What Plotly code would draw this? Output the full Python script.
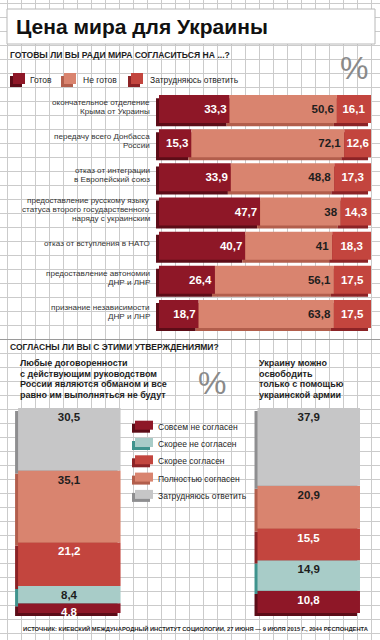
import plotly.graph_objects as go

W, H = 380, 640

# ---------------- data ----------------
title = "Цена мира для Украины"
question_top = "ГОТОВЫ ЛИ ВЫ РАДИ МИРА СОГЛАСИТЬСЯ НА ...?"
question_bottom = "СОГЛАСНЫ ЛИ ВЫ С ЭТИМИ УТВЕРЖДЕНИЯМИ?"
source = "ИСТОЧНИК: КИЕВСКИЙ МЕЖДУНАРОДНЫЙ ИНСТИТУТ СОЦИОЛОГИИ, 27 ИЮНЯ — 9 ИЮЛЯ 2015 Г., 2044 РЕСПОНДЕНТА"

concessions = [
    ["окончательное отделение", "Крыма от Украины"],
    ["передачу всего Донбасса", "России"],
    ["отказ от интеграции", "в Европейский союз"],
    ["предоставление русскому языку", "статуса второго государственного", "наряду с украинским"],
    ["отказ от вступления в НАТО"],
    ["предоставление автономии", "ДНР и ЛНР"],
    ["признание независимости", "ДНР и ЛНР"],
]
top_series = ["Готов", "Не готов", "Затрудняюсь ответить"]
ready = [33.3, 15.3, 33.9, 47.7, 40.7, 26.4, 18.7]
not_ready = [50.6, 72.1, 48.8, 38, 41, 56.1, 63.8]
undecided_top = [16.1, 12.6, 17.3, 14.3, 18.3, 17.5, 17.5]

statements = [
    ["Любые договоренности", "с действующим руководством", "России являются обманом и все", "равно им выполняться не будут"],
    ["Украину можно", "освободить", "только с помощью", "украинской армии"],
]
bottom_series = ["Совсем не согласен", "Скорее не согласен", "Скорее согласен",
                 "Полностью согласен", "Затрудняюсь ответить"]
strongly_disagree = [4.8, 10.8]
rather_disagree = [8.4, 14.9]
rather_agree = [21.2, 15.5]
fully_agree = [35.1, 20.9]
undecided_bottom = [30.5, 37.9]

# ---------------- styles ----------------
DARK, DARK_SH = "#8e1727", "#5c0c17"
SALMON, SALMON_SH = "#d9846f", "#b25e4c"
RED, RED_SH = "#c3453e", "#8c2326"
GRAY, GRAY_SH = "#c6c6c7", "#8e8e90"
TEAL, TEAL_SH = "#a8ccc8", "#3f938d"
GRID = "#cbcbcb"
TXT = "#1e1e1e"
NARROW = "Liberation Sans Narrow, Liberation Sans, Arial, sans-serif"
SANS = "Liberation Sans, Arial, sans-serif"


def fmt(v):
    return f"{v:g}".replace(".", ",")


def px(x):
    return x / W


def py(y):
    return 1 - y / H


fig = go.Figure()

# background grid holder (invisible trace so axis exists)
fig.add_trace(go.Scatter(x=[0], y=[0], mode="markers", marker=dict(opacity=0),
                         hoverinfo="skip", showlegend=False, xaxis="x", yaxis="y"))

# ---------------- top horizontal stacked bars ----------------
cats = [" ".join(c) for c in concessions]
top_vals = [ready, not_ready, undecided_top]
top_cols = [DARK, SALMON, RED]
top_sh = [DARK_SH, SALMON_SH, RED_SH]
top_txtcol = ["white", TXT, "white"]
top_anchor = ["end", "end", "middle"]

starts = []
acc = [0.0] * len(cats)
for vals in top_vals:
    starts.append(acc[:])
    acc = [a + v for a, v in zip(acc, vals)]

BW = 0.82
for vals, st, sh in zip(top_vals, starts, top_sh):
    fig.add_trace(go.Bar(orientation="h", y=cats, x=vals, base=[s - 1.4 for s in st],
                         width=BW, offset=-BW / 2 + 0.09, marker=dict(color=sh, line=dict(width=0)),
                         hoverinfo="skip", showlegend=False, xaxis="x2", yaxis="y2"))
for name, vals, st, col, tc, anc in zip(top_series, top_vals, starts, top_cols, top_txtcol, top_anchor):
    fig.add_trace(go.Bar(orientation="h", y=cats, x=vals, base=st, name=name,
                         width=BW, offset=-BW / 2, marker=dict(color=col, line=dict(width=0)),
                         text=[fmt(v) for v in vals], textposition="inside", insidetextanchor=anc,
                         textangle=0,
                         textfont=dict(family=SANS, size=11.5, color=tc, weight="bold"),
                         showlegend=False, xaxis="x2", yaxis="y2"))

# ---------------- bottom vertical stacked bars ----------------
st_keys = [" ".join(s) for s in statements]
bot_vals = [strongly_disagree, rather_disagree, rather_agree, fully_agree, undecided_bottom]
bot_cols = [DARK, TEAL, RED, SALMON, GRAY]
bot_sh = [DARK_SH, TEAL_SH, RED_SH, SALMON_SH, GRAY_SH]
bot_txtcol = ["white", TXT, "white", TXT, TXT]

bstarts = []
acc = [0.0, 0.0]
for vals in bot_vals:
    bstarts.append(acc[:])
    acc = [a + v for a, v in zip(acc, vals)]

VW = 0.428
for vals, st, sh in zip(bot_vals, bstarts, bot_sh):
    fig.add_trace(go.Bar(x=st_keys, y=vals, base=[s - 1.5 for s in st],
                         width=VW, offset=-VW / 2 - 0.0125, marker=dict(color=sh, line=dict(width=0)),
                         hoverinfo="skip", showlegend=False, xaxis="x3", yaxis="y3"))
for name, vals, st, col, tc in zip(bottom_series, bot_vals, bstarts, bot_cols, bot_txtcol):
    fig.add_trace(go.Bar(x=st_keys, y=vals, base=st, name=name,
                         width=VW, offset=-VW / 2, marker=dict(color=col, line=dict(width=0)),
                         text=[fmt(v) for v in vals], textposition="inside", insidetextanchor="end",
                         textangle=0,
                         textfont=dict(family=SANS, size=11.5, color=tc, weight="bold"),
                         showlegend=False, xaxis="x3", yaxis="y3"))

# ---------------- annotations / shapes ----------------
ann = []
shapes = []

# title box
shapes.append(dict(type="rect", xref="paper", yref="paper", x0=px(7), x1=px(375), y0=py(9), y1=py(44),
                   fillcolor="white", line=dict(color="#b8b8b8", width=1), layer="above"))
ann.append(dict(text=title, xref="paper", yref="paper", x=px(14), y=py(26), xanchor="left", yanchor="middle",
                showarrow=False, font=dict(family=SANS, size=21, color="#111", weight="bold")))
ann.append(dict(text=question_top, xref="paper", yref="paper", x=px(8), y=py(55), xanchor="left",
                yanchor="middle", showarrow=False, font=dict(family=NARROW, size=8.6, color=TXT, weight="bold")))
ann.append(dict(text="%", xref="paper", yref="paper", x=px(354), y=py(68), xanchor="center", yanchor="middle",
                showarrow=False, font=dict(family=SANS, size=32, color="#8a8a8a")))

# top legend
for name, col, sh, x0, lx in zip(top_series, top_cols, top_sh, [10, 61, 128], [28, 81, 148]):
    shapes.append(dict(type="rect", xref="paper", yref="paper", x0=px(x0), x1=px(x0 + 12), y0=py(87), y1=py(76),
                       fillcolor=sh, line=dict(width=0), layer="above"))
    shapes.append(dict(type="rect", xref="paper", yref="paper", x0=px(x0 + 3), x1=px(x0 + 15), y0=py(84), y1=py(73),
                       fillcolor=col, line=dict(width=0), layer="above"))
    ann.append(dict(text=name, xref="paper", yref="paper", x=px(lx), y=py(80), xanchor="left", yanchor="middle",
                    showarrow=False, font=dict(family=NARROW, size=8.5, color=TXT)))

# category labels (one annotation per line)
LS = 8.8
for cat, lines in zip(cats, concessions):
    n = len(lines)
    for j, line in enumerate(lines):
        ann.append(dict(text=line, xref="paper", yref="y2", x=px(152), y=cat, xanchor="right", yanchor="middle",
                        yshift=((n - 1) / 2 - j) * LS + 2, showarrow=False,
                        font=dict(family=NARROW, size=8.1, color="#333")))

# bottom section
shapes.append(dict(type="line", xref="paper", yref="paper", x0=0, x1=1, y0=py(339.5), y1=py(339.5),
                   line=dict(color="#9a9a9a", width=1), layer="above"))
ann.append(dict(text=question_bottom, xref="paper", yref="paper", x=px(8), y=py(347), xanchor="left",
                yanchor="middle", showarrow=False, font=dict(family=NARROW, size=8.5, color=TXT, weight="bold")))
ann.append(dict(text="%", xref="paper", yref="paper", x=px(212), y=py(383), xanchor="center", yanchor="middle",
                showarrow=False, font=dict(family=SANS, size=32, color="#8a8a8a")))
for lines, x0 in zip(statements, [18, 257]):
    for j, line in enumerate(lines):
        ann.append(dict(text=line, xref="paper", yref="paper", x=px(x0), y=py(363 + 10.7 * j), xanchor="left",
                        yanchor="middle", showarrow=False,
                        font=dict(family=SANS, size=9, color=TXT, weight="bold")))

# bottom legend
for k, (name, col, sh) in enumerate(zip(bottom_series, bot_cols, bot_sh)):
    yc = 426.7 + 17.3 * k
    shapes.append(dict(type="rect", xref="paper", yref="paper", x0=px(132), x1=px(150), y0=py(yc + 6), y1=py(yc - 3),
                       fillcolor=sh, line=dict(width=0), layer="above"))
    shapes.append(dict(type="rect", xref="paper", yref="paper", x0=px(135), x1=px(153), y0=py(yc + 3), y1=py(yc - 6),
                       fillcolor=col, line=dict(width=0), layer="above"))
    ann.append(dict(text=name, xref="paper", yref="paper", x=px(155.5), y=py(yc), xanchor="left", yanchor="middle",
                    showarrow=False, font=dict(family=NARROW, size=8.5, color=TXT)))

ann.append(dict(text=source, xref="paper", yref="paper", x=px(371), y=py(628), xanchor="right", yanchor="middle",
                showarrow=False, font=dict(family=NARROW, size=5.8, color=TXT, weight="bold")))

hidden = dict(showgrid=False, zeroline=False, showticklabels=False, showline=False, ticks="", fixedrange=True)

fig.update_layout(
    width=W, height=H, margin=dict(l=0, r=0, t=0, b=0),
    paper_bgcolor="white", plot_bgcolor="rgba(0,0,0,0)",
    barmode="overlay", showlegend=False,
    uniformtext=dict(minsize=11.5, mode="show"),
    xaxis=dict(domain=[0, 1], range=[0, W], showgrid=True, gridcolor=GRID, gridwidth=1, tick0=7, dtick=14,
               zeroline=False, showticklabels=False, ticks="", fixedrange=True),
    yaxis=dict(domain=[0, 1], range=[H, 0], showgrid=True, gridcolor=GRID, gridwidth=1, tick0=3.3, dtick=14,
               zeroline=False, showticklabels=False, ticks="", fixedrange=True),
    xaxis2=dict(domain=[px(155.6), px(371)], range=[-1.6, 100], anchor="y2", **hidden),
    yaxis2=dict(domain=[py(331), py(92)], type="category", categoryorder="array", categoryarray=cats,
                range=[len(cats) - 0.5, -0.5], anchor="x2", **hidden),
    xaxis3=dict(domain=[px(14), px(362)], type="category", categoryorder="array", categoryarray=st_keys,
                range=[-0.231, 1.2224], anchor="y3", **hidden),
    yaxis3=dict(domain=[py(617.1), py(408)], range=[-2, 100], anchor="x3", **hidden),
    annotations=ann, shapes=shapes,
)

fig.write_html("out.html", config={"displayModeBar": False},
               post_script="document.body.style.margin='0';")
